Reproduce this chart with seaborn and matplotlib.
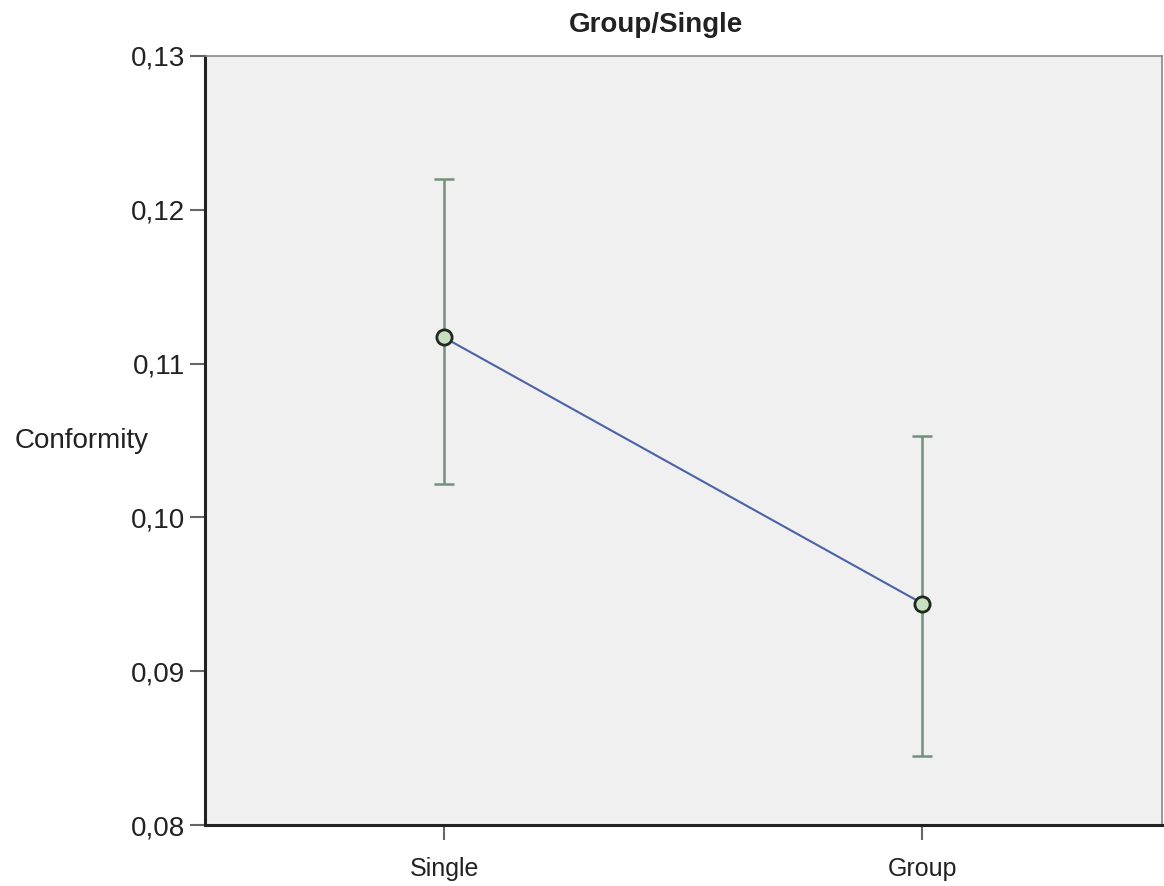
import matplotlib
matplotlib.use("Agg")
import matplotlib.pyplot as plt
import seaborn as sns
import pandas as pd

categories = ["Single", "Group"]
means = [0.1117, 0.0944]
ci_lower = [0.1022, 0.0845]
ci_upper = [0.1220, 0.1053]
yticks = [0.08, 0.09, 0.10, 0.11, 0.12, 0.13]
ytick_labels = ["0,08", "0,09", "0,10", "0,11", "0,12", "0,13"]

sns.set_style("white")
plt.rcParams['font.family'] = ['Liberation Sans', 'DejaVu Sans']

df = pd.DataFrame({"cat": categories, "mean": means})

fig = plt.figure(figsize=(11.64, 8.86), dpi=100)
ax = fig.add_axes([0.176, 0.0688, 0.822, 0.868])
ax.set_facecolor("#f0f0f0")

xs = list(range(len(categories)))
eb = ax.errorbar(xs, means,
                 yerr=[[m - l for m, l in zip(means, ci_lower)],
                       [u - m for m, u in zip(means, ci_upper)]],
                 fmt="none", ecolor="#72907a", elinewidth=1.8, capsize=7,
                 capthick=1.8, zorder=2)
for cl in eb[1]:
    cl.set_color("#555555")
sns.pointplot(data=df, x="cat", y="mean", order=categories, errorbar=None,
              color="#4a62a8", markers="o", linestyles="-", ax=ax,
              markersize=0, linewidth=1.5, zorder=3)
ax.scatter(xs, means, s=120, facecolor="#c8e0c0", edgecolor="#1f2a1f",
           linewidth=2, zorder=4)

ax.set_xlim(-0.5, 1.5)
ax.set_ylim(0.08, 0.13)
ax.set_yticks(yticks)
ax.set_yticklabels(ytick_labels)
ax.set_xticks(xs)
ax.set_xticklabels(categories)
ax.tick_params(axis="y", length=11, width=1.5, color="#666666", pad=3,
               left=True, labelsize=20, labelcolor="#222222")
ax.tick_params(axis="x", length=11, width=1.5, color="#666666", pad=12,
               bottom=True, labelsize=18, labelcolor="#222222")
ax.set_xlabel("")
ax.set_ylabel("Conformity", fontsize=20, rotation=0, color="#222222",
              ha="center", va="center")
ax.yaxis.set_label_coords(-0.1285, 0.499)
ax.set_title("Group/Single", fontsize=20, fontweight="bold",
             color="#222222", x=0.471, y=1.0, pad=17)

for s in ["left", "bottom"]:
    ax.spines[s].set_color("#222222")
    ax.spines[s].set_linewidth(2.2)
for s in ["top", "right"]:
    ax.spines[s].set_color("#888888")
    ax.spines[s].set_linewidth(1.2)

fig.savefig("out.png", dpi=100)
